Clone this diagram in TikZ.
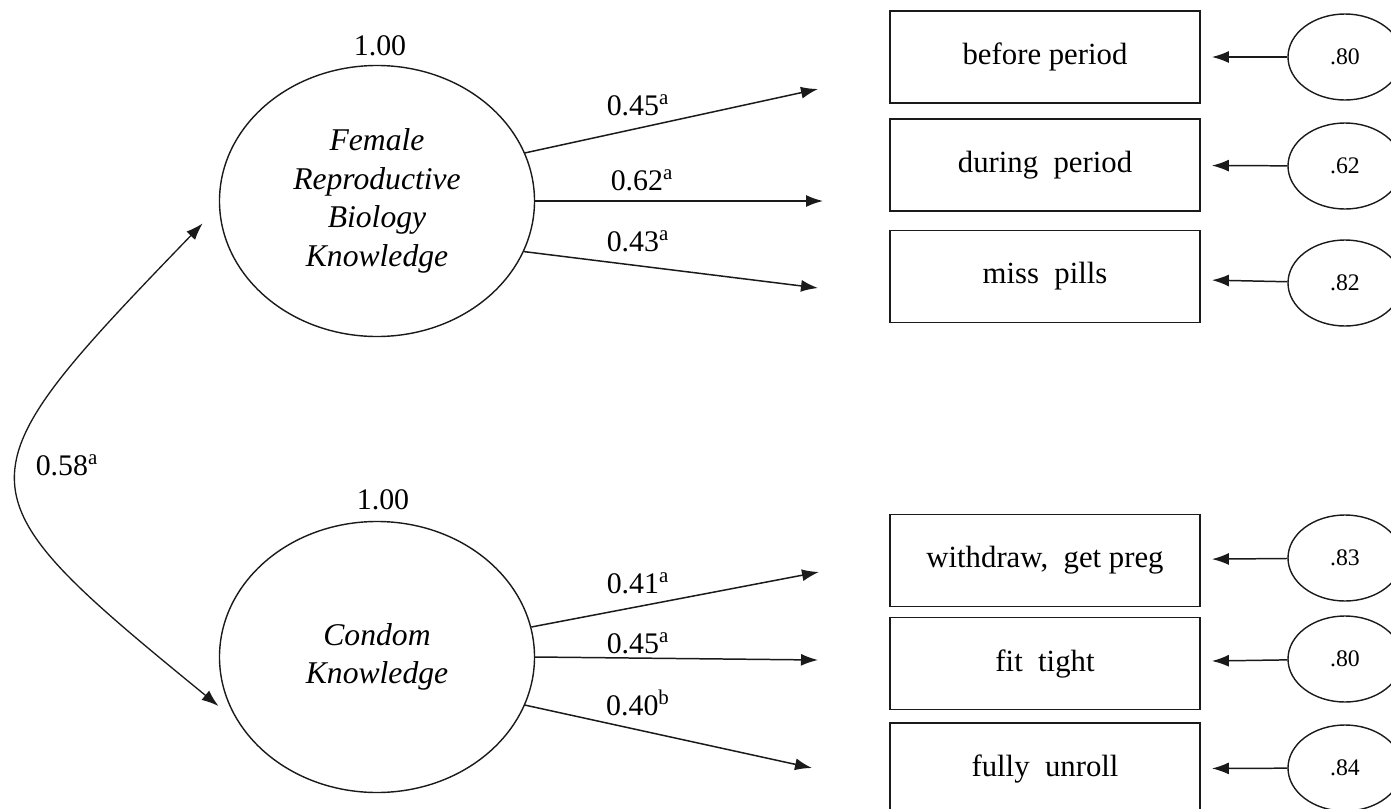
\documentclass[tikz,border=0pt]{standalone}
\usepackage{fontspec}
\setmainfont{Liberation Serif}
\usetikzlibrary{arrows.meta,shapes.geometric}
\definecolor{ink}{HTML}{1A1A1A}
\tikzset{
  loadarr/.style={-{Latex[length=3.4mm,width=2.4mm]},line width=0.85pt,color=ink},
  errarr/.style={-{Latex[length=3.4mm,width=2.4mm]},line width=0.85pt,color=ink,shorten >=2.2mm},
  covarr/.style={{Latex[length=3.4mm,width=2.4mm]}-{Latex[length=3.4mm,width=2.4mm]},line width=0.75pt,color=ink},
  latent/.style={ellipse,draw=ink,line width=0.8pt,minimum width=6.3cm,minimum height=5.42cm,inner sep=0pt,align=center,font=\fontsize{18}{22}\selectfont\itshape},
  itembox/.style={rectangle,draw=ink,line width=1pt,minimum width=6.2cm,minimum height=1.84cm,font=\fontsize{17.5}{20}\selectfont},
  errnode/.style={ellipse,draw=ink,line width=0.8pt,minimum width=2.28cm,minimum height=1.72cm,inner sep=0pt,font=\fontsize{13.5}{15}\selectfont},
  coef/.style={font=\fontsize{17}{20}\selectfont,inner sep=1pt}
}

\begin{document}
\begin{tikzpicture}[x=0.2cm,y=-0.2cm]
  \useasboundingbox (0,0) rectangle (139.1,80.9);
  \clip (0,0) rectangle (139.1,80.9);
  % latent factors
  \node[latent] (fem) at (37.7,20.1) {Female\\Reproductive\\Biology\\Knowledge};
  \node[latent] (con) at (37.7,65.7) {Condom\\Knowledge};
  \node[coef] (vfem) at (38,4.6) {1.00};
  \node[coef] (vcon) at (38.3,50.0) {1.00};
  % indicators
  \node[itembox] (b1) at (104.5,5.7) {before period};
  \node[itembox] (b2) at (104.5,16.5) {during\ \ period};
  \node[itembox] (b3) at (104.5,27.65) {miss\ \ pills};
  \node[itembox] (b4) at (104.5,56.05) {withdraw,\ \ get preg};
  \node[itembox] (b5) at (104.5,66.35) {fit\ \ tight};
  \node[itembox] (b6) at (104.5,76.9) {fully\ \ unroll};
  % error terms
  \node[errnode] (e1) at (134.5,5.7) {.80};
  \node[errnode] (e2) at (134.5,16.6) {.62};
  \node[errnode] (e3) at (134.5,28.3) {.82};
  \node[errnode] (e4) at (134.5,55.8) {.83};
  \node[errnode] (e5) at (134.5,65.9) {.80};
  \node[errnode] (e6) at (134.5,76.8) {.84};
  % free ends of the loadings
  \coordinate (t1) at (81.8,8.9);
  \coordinate (t2) at (82.3,20.1);
  \coordinate (t3) at (81.8,28.8);
  \coordinate (t4) at (81.9,57.2);
  \coordinate (t5) at (81.8,66.0);
  \coordinate (t6) at (81.2,76.8);
  \draw[loadarr] (fem.18) -- (t1);
  \draw[loadarr] (fem.east) -- (t2);
  \draw[loadarr] (fem.-19) -- (t3);
  \draw[loadarr] (con.11) -- (t4);
  \draw[loadarr] (con.east) -- (t5);
  \draw[loadarr] (con.-18) -- (t6);
  \node[coef] (l1) at (63.8,10.5) {0.45\textsuperscript{a}};
  \node[coef] (l2) at (64.2,18.0) {0.62\textsuperscript{a}};
  \node[coef] (l3) at (63.8,24.1) {0.43\textsuperscript{a}};
  \node[coef] (l4) at (63.8,58.3) {0.41\textsuperscript{a}};
  \node[coef] (l5) at (63.8,64.3) {0.45\textsuperscript{a}};
  \node[coef] (l6) at (63.8,70.3) {0.40\textsuperscript{b}};
  % residual arrows
  \foreach \i in {1,...,6}
    \draw[errarr] (e\i) -- (b\i);
  % covariance
  \draw[covarr,shorten <=4.7mm,shorten >=5mm] (fem.182)
    .. controls (-4.7,48.2) and (-4.7,48.9) .. (con.205);
  \node[coef] (lc) at (6.7,46.5) {0.58\textsuperscript{a}};
\end{tikzpicture}
\end{document}
